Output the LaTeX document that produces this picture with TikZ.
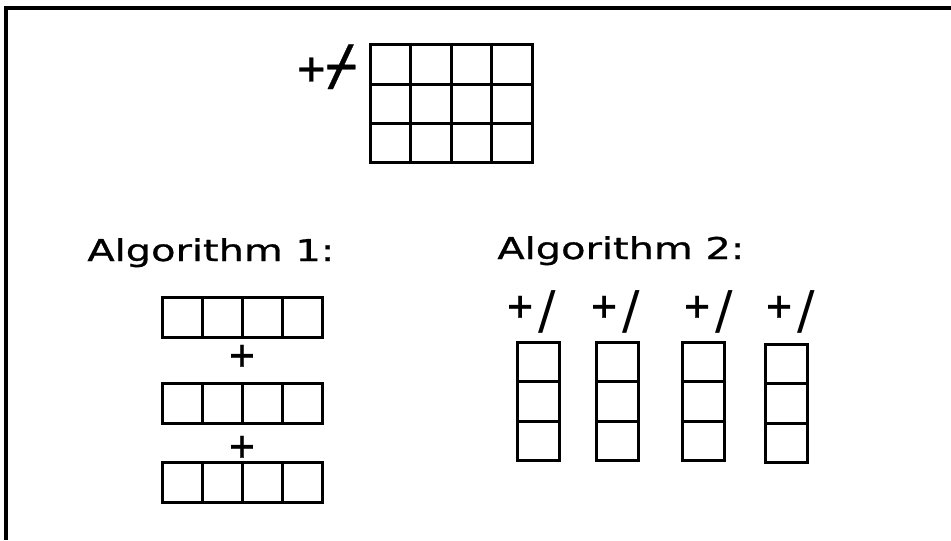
\documentclass[tikz,border=0pt]{standalone}
\usepackage{fontspec}
\newfontfamily\plotfont[FakeStretch=1.33, FakeBold=1]{DejaVu Sans}
\newfontfamily\aplfont[FakeBold=0.6]{DejaVu Sans Mono}
\newfontfamily\slashfont{DejaVu Sans}
\newcommand{\bigslash}[1]{\hspace{3pt}\raisebox{#1}{\slashfont\fontsize{26}{26}\selectfont/}}
\tikzset{
  cell/.style={draw, line width=1.5pt},
  title/.style={font=\plotfont\fontsize{15}{18}\selectfont, inner sep=0pt, anchor=base west},
  reduce/.style={font=\aplfont\fontsize{21}{22}\selectfont, inner sep=0pt, anchor=base west},
  plus/.style={font=\aplfont\fontsize{21}{24}\selectfont, inner sep=0pt},
}
\begin{document}
\begin{tikzpicture}[x=0.5pt, y=-0.5pt]
\useasboundingbox (0,0) rectangle (951,540);
% frame
\draw[line width=2pt] (951,8) -- (6,8) -- (6,540);
% the matrix, reduced along its first axis
\node[reduce, font=\aplfont\fontsize{23}{26}\selectfont] (topop) at (297,84)
  {+{\fontsize{27}{28}\selectfont ⌿}};
\foreach \i in {0,...,3}
  \foreach \j in {0,...,2}
    \draw[cell] (370+40.5*\i,45+39.33*\j) rectangle ++(40.5,39.33);
% algorithm 1: add the rows
\node[title] (algone) at (87,261) {Algorithm 1:};
\foreach \y in {297,383,462}
  \foreach \i in {0,...,3}
    \draw[cell] (162+40*\i,\y) rectangle ++(40,40);
\node[plus] (plusa) at (242,357) {+};
\node[plus] (plusb) at (242,448) {+};
% algorithm 2: reduce each column
\node[title] (algtwo) at (497,259) {Algorithm 2:};
\foreach \x/\y/\l [count=\k] in {517/342/507, 596/342/591, 682/342/684, 765/344/766} {
  \node[reduce] (op\k) at (\l,320) {+\bigslash{-4pt}};
  \foreach \j in {0,...,2}
    \draw[cell] (\x,\y+39.5*\j) rectangle ++(42,39.5);
}
\end{tikzpicture}
\end{document}
